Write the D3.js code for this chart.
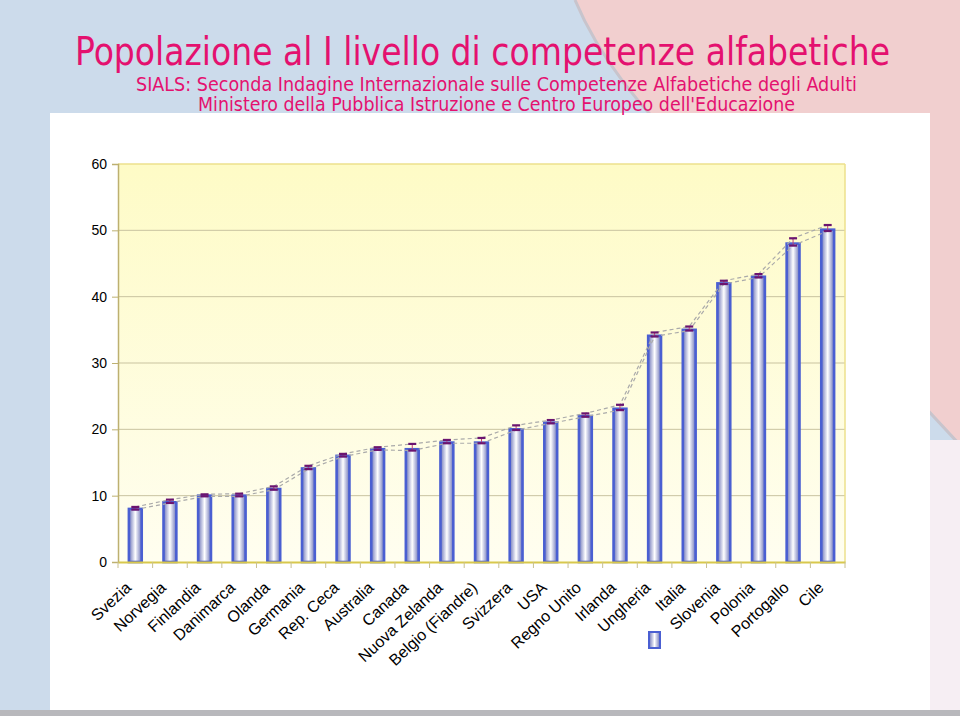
<!DOCTYPE html>
<html><head><meta charset="utf-8">
<script src="https://cdn.jsdelivr.net/npm/d3@7"></script>
<style>html,body{margin:0;padding:0;background:#fff;}svg{display:block;}</style>
</head><body>
<svg id="chart" width="960" height="716"></svg>
<script>
const categories = ["Svezia","Norvegia","Finlandia","Danimarca","Olanda","Germania","Rep. Ceca","Australia","Canada","Nuova Zelanda","Belgio (Fiandre)","Svizzera","USA","Regno Unito","Irlanda","Ungheria","Italia","Slovenia","Polonia","Portogallo","Cile"];
const values = [8.0,9.0,10.0,10.0,11.0,14.1,16.0,17.0,17.0,18.0,18.0,20.0,21.0,22.0,23.1,34.1,35.0,42.0,43.0,48.0,50.1];
const errLow = [7.9,8.9,9.9,9.9,10.9,14.0,15.9,16.9,16.8,17.9,17.9,19.9,20.9,21.9,22.9,34.0,34.9,41.9,42.9,47.7,49.9];
const errHigh = [8.3,9.4,10.2,10.3,11.4,14.5,16.3,17.3,17.8,18.4,18.7,20.6,21.4,22.4,23.7,34.6,35.5,42.4,43.4,48.8,50.8];
const yTicks = [0,10,20,30,40,50,60];
const title = "Popolazione al I livello di competenze alfabetiche";
const subtitle1 = "SIALS: Seconda Indagine Internazionale sulle Competenze Alfabetiche degli Adulti";
const subtitle2 = "Ministero della Pubblica Istruzione e Centro Europeo dell'Educazione";

const svg = d3.select("#chart");
const defs = svg.append("defs");

// background
svg.append("rect").attr("width",960).attr("height",716).attr("fill","#ccdbeb");
svg.append("path").attr("d","M575,0 C598,55 640,110 700,165 L960,445 L960,0 Z").attr("fill","#f1cfcf");
svg.append("path").attr("d","M575,0 C598,55 640,110 700,165 L960,445").attr("fill","none").attr("stroke","#c8c4cc").attr("stroke-width",3);
svg.append("rect").attr("x",930).attr("y",440).attr("width",30).attr("height",276).attr("fill","#f6eef3");
svg.append("rect").attr("x",0).attr("y",710).attr("width",960).attr("height",6).attr("fill","#b8b8bc");
svg.append("rect").attr("x",50).attr("y",113).attr("width",880).attr("height",597).attr("fill","#ffffff");

// titles
const tf = "'Comic Sans MS','DejaVu Sans Condensed','DejaVu Sans',sans-serif";
svg.append("text").attr("x",75).attr("y",65).attr("font-family",tf).attr("font-size",39)
  .attr("fill","#e4116f").attr("textLength",815).attr("lengthAdjust","spacingAndGlyphs").text(title);
svg.append("text").attr("x",136).attr("y",91).attr("font-family",tf).attr("font-size",19)
  .attr("fill","#e4116f").attr("textLength",721).attr("lengthAdjust","spacingAndGlyphs").text(subtitle1);
svg.append("text").attr("x",198).attr("y",111).attr("font-family",tf).attr("font-size",19)
  .attr("fill","#e4116f").attr("textLength",597).attr("lengthAdjust","spacingAndGlyphs").text(subtitle2);

// scales
const pLeft=118, pRight=845, pTop=164, pBottom=562;
const x = d3.scaleBand().domain(categories).range([pLeft,pRight]).paddingInner(0.56).paddingOuter(0.28);
const y = d3.scaleLinear().domain([0,60]).range([pBottom,pTop]);

// plot background gradient
const pg = defs.append("linearGradient").attr("id","plotbg").attr("x1",0).attr("y1",0).attr("x2",0).attr("y2",1);
pg.append("stop").attr("offset","0%").attr("stop-color","#fefbc6");
pg.append("stop").attr("offset","100%").attr("stop-color","#fffef0");
svg.append("rect").attr("x",pLeft).attr("y",pTop).attr("width",pRight-pLeft).attr("height",pBottom-pTop).attr("fill","url(#plotbg)");

// gridlines
svg.append("g").selectAll("line").data(yTicks.filter(t=>t>0 && t<60)).join("line")
  .attr("x1",pLeft).attr("x2",pRight).attr("y1",d=>y(d)).attr("y2",d=>y(d))
  .attr("stroke","#c9c3a0").attr("stroke-width",1);
// border
svg.append("line").attr("x1",pLeft).attr("x2",pRight).attr("y1",pTop).attr("y2",pTop).attr("stroke","#ece18c").attr("stroke-width",1.5);
svg.append("line").attr("x1",pRight).attr("x2",pRight).attr("y1",pTop).attr("y2",pBottom).attr("stroke","#ece18c").attr("stroke-width",1.5);

// y axis
const yAxis = d3.axisLeft(y).tickValues(yTicks).tickSize(6).tickPadding(5);
const gy = svg.append("g").attr("transform",`translate(${pLeft},0)`).call(yAxis);
gy.select(".domain").attr("stroke","#bdb070").attr("stroke-width",1.5);
gy.selectAll(".tick line").attr("stroke","#bdb070");
gy.selectAll("text").attr("font-family","Liberation Sans, Arial, sans-serif").attr("font-size",14).attr("fill","#000");

// bar gradient
const bg = defs.append("linearGradient").attr("id","bargrad").attr("x1",0).attr("y1",0).attr("x2",1).attr("y2",0);
bg.append("stop").attr("offset","0%").attr("stop-color","#6c74b8");
bg.append("stop").attr("offset","50%").attr("stop-color","#ffffff");
bg.append("stop").attr("offset","100%").attr("stop-color","#6c74b8");

// bars
svg.append("g").selectAll("rect").data(categories).join("rect")
  .attr("x",d=>x(d)+1.2).attr("width",x.bandwidth()-2.4)
  .attr("y",(d,i)=>y(values[i])).attr("height",(d,i)=>pBottom-y(values[i]))
  .attr("fill","url(#bargrad)").attr("stroke","#4a5fd2").attr("stroke-width",2.6);

// dashed connecting lines
const cx = d=>x(d)+x.bandwidth()/2;
const lineGen = d3.line().x((d,i)=>cx(categories[i])).y(d=>y(d));
svg.append("path").attr("d",lineGen(errLow)).attr("fill","none").attr("stroke","#aaaaaa").attr("stroke-width",1.2).attr("stroke-dasharray","4,3");
svg.append("path").attr("d",lineGen(errHigh)).attr("fill","none").attr("stroke","#aaaaaa").attr("stroke-width",1.2).attr("stroke-dasharray","4,3");

// error bars
const eg = svg.append("g");
categories.forEach((c,i)=>{
  const xc = cx(c);
  eg.append("line").attr("x1",xc).attr("x2",xc).attr("y1",y(errLow[i])).attr("y2",y(errHigh[i])).attr("stroke","#c0407a").attr("stroke-width",1);
  eg.append("line").attr("x1",xc-4).attr("x2",xc+4).attr("y1",y(errLow[i])).attr("y2",y(errLow[i])).attr("stroke","#6b1470").attr("stroke-width",2.2);
  eg.append("line").attr("x1",xc-4).attr("x2",xc+4).attr("y1",y(errHigh[i])).attr("y2",y(errHigh[i])).attr("stroke","#6b1470").attr("stroke-width",2.2);
});

// x axis
const xAxis = d3.axisBottom(x).tickSize(0).tickFormat("");
const gx = svg.append("g").attr("transform",`translate(0,${pBottom})`).call(xAxis);
gx.select(".domain").attr("stroke","#d8c84c").attr("stroke-width",2);
svg.append("g").selectAll("line").data(d3.range(categories.length+1)).join("line")
  .attr("x1",i=>pLeft+i*x.step()).attr("x2",i=>pLeft+i*x.step())
  .attr("y1",pBottom).attr("y2",pBottom+6).attr("stroke","#c8c090").attr("stroke-width",1);

// x labels
svg.append("g").selectAll("text").data(categories).join("text")
  .attr("transform",d=>`translate(${cx(d)-3},${pBottom+27}) rotate(-43)`)
  .attr("text-anchor","end").attr("font-family","Liberation Sans, Arial, sans-serif").attr("font-size",16).attr("fill","#000")
  .text(d=>d);

// legend swatch
svg.append("rect").attr("x",649).attr("y",632).attr("width",11).attr("height",16)
  .attr("fill","url(#bargrad)").attr("stroke","#4a5fd2").attr("stroke-width",2);
</script>
</body></html>
